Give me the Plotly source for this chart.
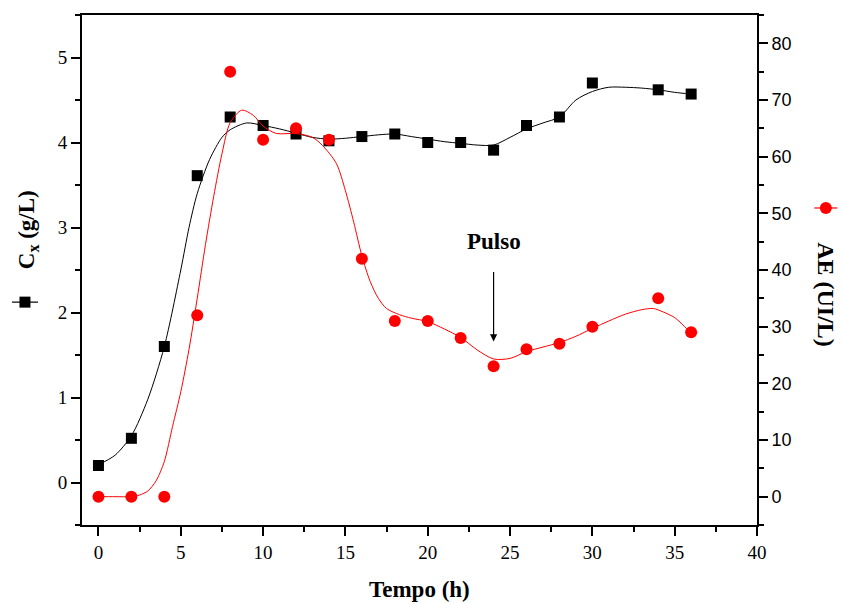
import plotly.graph_objects as go

tempo = [0, 2, 4, 6, 8, 10, 12, 14, 16, 18, 20, 22, 24, 26, 28, 30, 34, 36]
cx = [0.20, 0.52, 1.60, 3.61, 4.30, 4.20, 4.10, 4.02, 4.07, 4.10, 4.00, 4.00, 3.91, 4.20, 4.30, 4.70, 4.62, 4.57]
ae = [0, 0, 0, 32, 75, 63, 65, 63, 42, 31, 31, 28, 23, 26, 27, 30, 35, 29]

# ---- smoothed curves as drawn in the picture ----
cx_fit_t = [0, 1, 2, 3, 4, 5, 5.5, 6, 6.75, 7.5, 8, 9, 10, 11, 12, 13, 14, 15, 16, 17, 18, 19,
            20, 21, 22, 23, 24, 25, 26, 27, 28, 29, 30, 31, 32, 33, 34, 35, 36]
cx_fit = [0.21, 0.32, 0.55, 0.98, 1.60, 2.50, 3.00, 3.40, 3.80, 4.06, 4.15, 4.23, 4.20, 4.16, 4.11,
          4.06, 4.04, 4.05, 4.07, 4.09, 4.10, 4.07, 4.04, 4.01, 3.99, 3.97, 3.97, 4.06, 4.16, 4.23,
          4.30, 4.50, 4.60, 4.65, 4.65, 4.64, 4.62, 4.59, 4.57]
ae_fit_t = [0, 1, 2, 2.5, 3, 3.5, 4, 4.5, 5, 5.5, 6, 6.5, 7, 7.5, 8, 8.7, 9.4, 10, 10.8, 12, 13,
            13.6, 14.45, 15, 15.5, 16, 16.5, 17, 17.5, 18.3, 19, 20, 21, 22, 23, 24, 25, 26, 27,
            28, 29, 30, 31, 32, 33, 33.7, 34.3, 35, 35.5, 36]
ae_fit = [0, 0, 0, 0.3, 1.0, 2.8, 6.2, 12.4, 18.5, 26, 35, 44.5, 53, 60.5, 66, 68.2, 67.3, 65.4,
          64.1, 64.1, 63.4, 62, 58.8, 54, 48.5, 42.5, 38, 35, 33.2, 32.1, 31.5, 30.9, 29.6, 28.1,
          25.9, 24.3, 24.4, 25.6, 26.4, 27.2, 28.3, 29.7, 31.0, 32.2, 33.0, 33.2, 32.6, 31.6,
          30.3, 28.8]

x_ticks = [0, 5, 10, 15, 20, 25, 30, 35, 40]
cx_ticks = [0, 1, 2, 3, 4, 5]
ae_ticks = [0, 10, 20, 30, 40, 50, 60, 70, 80]
pulse_t = 24
pulse_label = "Pulso"

SERIF = "Liberation Serif, Times New Roman, serif"
SANS = "Liberation Sans, Arial, sans-serif"

fig = go.Figure()
fig.add_trace(go.Scatter(x=cx_fit_t, y=cx_fit, mode="lines",
                         line=dict(color="black", width=1, shape="spline", smoothing=0.8),
                         yaxis="y", showlegend=False, hoverinfo="skip"))
fig.add_trace(go.Scatter(x=tempo, y=cx, mode="markers",
                         marker=dict(symbol="square", size=11, color="black"),
                         yaxis="y", showlegend=False))
fig.add_trace(go.Scatter(x=ae_fit_t, y=ae_fit, mode="lines",
                         line=dict(color="#ff0000", width=1, shape="spline", smoothing=0.8),
                         yaxis="y2", showlegend=False, hoverinfo="skip"))
fig.add_trace(go.Scatter(x=tempo, y=ae, mode="markers",
                         marker=dict(symbol="circle", size=12, color="#ff0000"),
                         yaxis="y2", showlegend=False))

axis_common = dict(showgrid=False, zeroline=False, showline=True, linecolor="black",
                   linewidth=2, ticks="outside", ticklen=9, tickwidth=2, tickcolor="black")

fig.update_layout(
    width=844, height=604,
    margin=dict(l=82, r=87, t=15, b=79),
    plot_bgcolor="white", paper_bgcolor="white",
    xaxis=dict(range=[-1, 40], tickvals=x_ticks, mirror=True,
               tickfont=dict(family=SERIF, size=19, color="black"),
               minor=dict(dtick=2.5, ticks="outside", ticklen=5, tickwidth=2, tickcolor="black"),
               **axis_common),
    yaxis=dict(range=[-0.5, 5.5], tickvals=cx_ticks,
               tickfont=dict(family=SERIF, size=19, color="black"),
               minor=dict(dtick=0.5, ticks="outside", ticklen=5, tickwidth=2, tickcolor="black"),
               **axis_common),
    yaxis2=dict(range=[-5, 85], tickvals=ae_ticks, overlaying="y", side="right",
                tickfont=dict(family=SANS, size=18, color="black"),
                minor=dict(dtick=5, ticks="outside", ticklen=5, tickwidth=2, tickcolor="black"),
                **axis_common),
)

# axis titles
fig.add_annotation(text="<b>Tempo (h)</b>", xref="paper", yref="paper", x=0.5, y=-0.127,
                   showarrow=False, font=dict(family=SERIF, size=23, color="black"),
                   xanchor="center", yanchor="middle")
fig.add_annotation(text="<b>C<sub>x</sub> (g/L)</b>", xref="paper", yref="paper", x=-0.08, y=0.578,
                   showarrow=False, textangle=-90, font=dict(family=SERIF, size=23, color="black"),
                   xanchor="center", yanchor="middle")
fig.add_annotation(text="<b>AE (UI/L)</b>", xref="paper", yref="paper", x=1.102, y=0.451,
                   showarrow=False, textangle=90, font=dict(family=SERIF, size=24, color="black"),
                   xanchor="center", yanchor="middle")

# legend keys beside axis titles
fig.add_shape(type="line", xref="paper", yref="paper", x0=-0.1037, x1=-0.0652, y0=0.437, y1=0.437,
              line=dict(color="black", width=1.2))
fig.add_shape(type="rect", xref="paper", yref="paper", xsizemode="pixel", ysizemode="pixel",
              xanchor=-0.0845, yanchor=0.437, x0=-5.5, x1=5.5, y0=-5.5, y1=5.5,
              fillcolor="black", line=dict(width=0))
fig.add_shape(type="line", xref="paper", yref="paper", x0=1.085, x1=1.119, y0=0.6216, y1=0.6216,
              line=dict(color="#ff0000", width=1.2))
fig.add_shape(type="circle", xref="paper", yref="paper", xsizemode="pixel", ysizemode="pixel",
              xanchor=1.102, yanchor=0.6216, x0=-6, x1=6, y0=-6, y1=6,
              fillcolor="#ff0000", line=dict(width=0))

# pulse arrow
fig.add_annotation(x=pulse_t, y=27.4, xref="x", yref="y2", ax=pulse_t, ay=41.4, axref="x", ayref="y2",
                   text=" ", showarrow=True, arrowhead=2, arrowsize=1.2, arrowwidth=1.2, arrowcolor="black")
fig.add_annotation(x=pulse_t, y=45, xref="x", yref="y2", text="<b>" + pulse_label + "</b>",
                   showarrow=False, font=dict(family=SERIF, size=23, color="black"),
                   xanchor="center", yanchor="middle")

fig.write_html("out.html")
